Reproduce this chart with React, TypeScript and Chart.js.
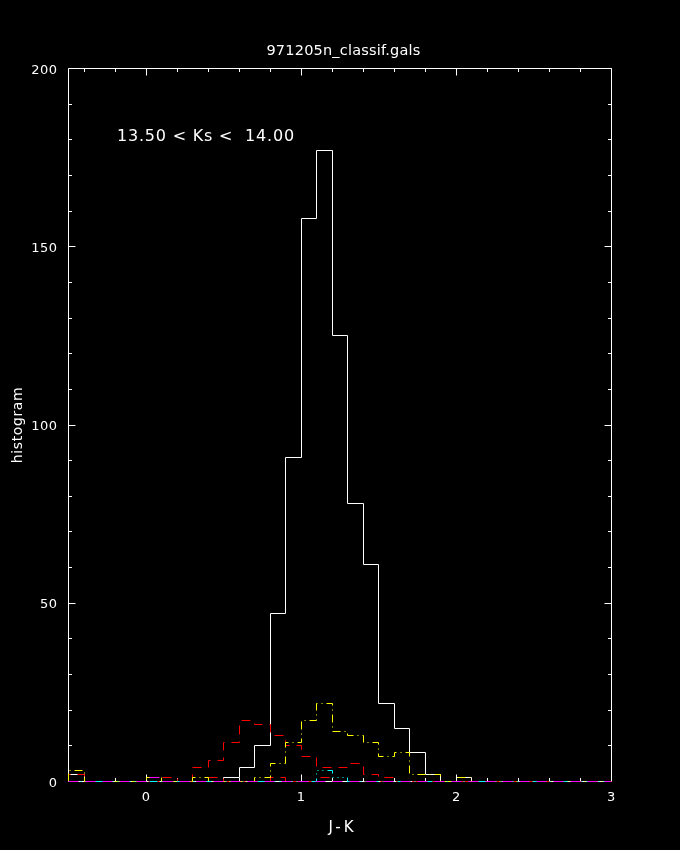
import React, { useEffect, useRef } from "react";
import { Chart, registerables } from "chart.js";

Chart.register(...registerables);

// ---- text ----
const TITLE = "971205n_classif.gals";
const ANNOTATION = "13.50 < Ks <  14.00";
const X_LABEL = "J-K";
const Y_LABEL = "histogram";

// ---- bins (left edges, width 0.1) ----
const binLeft = [
  -0.5, -0.4, -0.3, -0.2, -0.1, 0.0, 0.1, 0.2, 0.3, 0.4,
  0.5, 0.6, 0.7, 0.8, 0.9, 1.0, 1.1, 1.2, 1.3, 1.4,
  1.5, 1.6, 1.7, 1.8, 1.9, 2.0, 2.1, 2.2, 2.3, 2.4,
  2.5, 2.6, 2.7, 2.8, 2.9,
];
const binWidth = 0.1;

// ---- series counts per bin ----
const whiteCounts = [
  2, 0, 0, 0, 0, 0, 0, 0, 0, 0,
  1, 4, 10, 47, 91, 158, 177, 125, 78, 61,
  22, 15, 8, 2, 0, 1, 0, 0, 0, 0,
  0, 0, 0, 0, 0,
];
const redCounts = [
  2, 0, 0, 0, 0, 0, 1, 0, 4, 6,
  11, 17, 16, 13, 10, 7, 4, 4, 5, 2,
  1, 0, 0, 0, 0, 0, 0, 0, 0, 0,
  0, 0, 0, 0, 0,
];
const red2Counts = [
  0, 0, 0, 0, 0, 0, 0, 0, 0, 1,
  0, 0, 0, 1, 0, 0, 1, 0, 0, 0,
  0, 0, 0, 0, 0, 0, 0, 0, 0, 0,
  0, 0, 0, 0, 0,
];
const yellowCounts = [
  3, 0, 0, 0, 0, 1, 0, 0, 1, 0,
  0, 0, 1, 5, 11, 17, 22, 14, 13, 11,
  7, 8, 2, 2, 0, 1, 0, 0, 0, 0,
  0, 0, 0, 0, 0,
];
const cyanCounts = [
  0, 0, 0, 0, 0, 0, 0, 0, 0, 0,
  0, 0, 0, 0, 0, 0, 3, 1, 0, 0,
  0, 0, 0, 0, 0, 0, 0, 0, 0, 0,
  0, 0, 0, 0, 0,
];
const magentaCounts = [
  0, 0, 0, 0, 0, 1, 0, 0, 0, 0,
  0, 0, 0, 0, 0, 0, 0, 0, 0, 0,
  0, 0, 0, 0, 0, 0, 0, 0, 0, 0,
  0, 0, 0, 0, 0,
];

// ---- axes ----
const X_MIN = -0.5;
const X_MAX = 3;
const Y_MIN = 0;
const Y_MAX = 200;
const xMajorTicks = [0, 1, 2, 3];
const xTickLabels = ["0", "1", "2", "3"];
const xMinorTicks = [-0.4, -0.2, 0.2, 0.4, 0.6, 0.8, 1.2, 1.4, 1.6, 1.8, 2.2, 2.4, 2.6, 2.8];
const yMajorTicks = [0, 50, 100, 150, 200];
const yTickLabels = ["0", "50", "100", "150", "200"];
const yMinorTicks = [10, 20, 30, 40, 60, 70, 80, 90, 110, 120, 130, 140, 160, 170, 180, 190];

function toSteps(counts: number[]) {
  const pts: { x: number; y: number }[] = [{ x: binLeft[0], y: 0 }];
  counts.forEach((c, i) => pts.push({ x: binLeft[i], y: c }));
  const last = counts.length - 1;
  pts.push({ x: binLeft[last] + binWidth, y: counts[last] });
  return pts;
}

const snap = (v: number) => Math.floor(v) + 0.5;

const framePlugin = {
  id: "pgframe",
  beforeDraw(chart: any) {
    const ctx = chart.ctx;
    ctx.save();
    ctx.fillStyle = "#000000";
    ctx.fillRect(0, 0, chart.width, chart.height);
    ctx.restore();
  },
  afterDatasetsUpdate(chart: any) {
    // align the step outlines on the pixel grid so 1px lines stay crisp
    chart.data.datasets.forEach((_: any, i: number) => {
      const meta = chart.getDatasetMeta(i);
      meta.data.forEach((p: any) => {
        p.x = snap(p.x);
        p.y = snap(p.y);
      });
    });
  },
  beforeDatasetsDraw(chart: any) {
    const ctx = chart.ctx;
    const { left, right, top, bottom } = chart.chartArea;
    const xs = chart.scales.x;
    const ys = chart.scales.y;
    ctx.save();
    ctx.strokeStyle = "#ffffff";
    ctx.lineWidth = 1;
    ctx.beginPath();
    ctx.rect(left, top, right - left, bottom - top);
    const major = 7;
    const minor = 3.5;
    const xt = (v: number, len: number) => {
      const px = snap(xs.getPixelForValue(v));
      ctx.moveTo(px, bottom);
      ctx.lineTo(px, bottom - len);
      ctx.moveTo(px, top);
      ctx.lineTo(px, top + len);
    };
    const yt = (v: number, len: number) => {
      const py = snap(ys.getPixelForValue(v));
      ctx.moveTo(left, py);
      ctx.lineTo(left + len, py);
      ctx.moveTo(right, py);
      ctx.lineTo(right - len, py);
    };
    xMajorTicks.forEach((v) => xt(v, major));
    xMinorTicks.forEach((v) => xt(v, minor));
    yMajorTicks.forEach((v) => yt(v, major));
    yMinorTicks.forEach((v) => yt(v, minor));
    ctx.stroke();
    ctx.restore();
  },
  afterDraw(chart: any) {
    const ctx = chart.ctx;
    const { left, right, top, bottom } = chart.chartArea;
    const xs = chart.scales.x;
    const ys = chart.scales.y;
    ctx.save();
    ctx.fillStyle = "#ffffff";
    ctx.textBaseline = "alphabetic";

    // tick labels
    ctx.font = '13px "DejaVu Sans"';
    (ctx as any).letterSpacing = "0.5px";
    ctx.textAlign = "right";
    yMajorTicks.forEach((v, i) => {
      ctx.fillText(yTickLabels[i], 57.5, ys.getPixelForValue(v) + 5);
    });
    ctx.textAlign = "center";
    xMajorTicks.forEach((v, i) => {
      ctx.fillText(xTickLabels[i], xs.getPixelForValue(v), 800.5);
    });

    // title
    ctx.font = '14.5px "DejaVu Sans"';
    (ctx as any).letterSpacing = "0.2px";
    ctx.textAlign = "center";
    ctx.fillText(TITLE, 343.5, 54.5);

    // x label
    ctx.font = '15px "DejaVu Sans"';
    (ctx as any).letterSpacing = "3px";
    ctx.fillText(X_LABEL, (left + right) / 2 + 2.5, 831.5);

    // y label
    ctx.save();
    ctx.font = '14px "DejaVu Sans"';
    (ctx as any).letterSpacing = "0.6px";
    ctx.translate(22, (top + bottom) / 2);
    ctx.rotate(-Math.PI / 2);
    ctx.textAlign = "center";
    ctx.fillText(Y_LABEL, 0, 0);
    ctx.restore();

    // annotation
    ctx.font = '16px "DejaVu Sans"';
    (ctx as any).letterSpacing = "0.8px";
    ctx.textAlign = "left";
    ctx.fillText(ANNOTATION, 117, 140.5);

    ctx.restore();
  },
};

export default function App() {
  const canvasRef = useRef<HTMLCanvasElement | null>(null);

  useEffect(() => {
    const canvas = canvasRef.current;
    if (!canvas) return;
    const common = {
      pointRadius: 0,
      pointHoverRadius: 0,
      borderWidth: 1,
      fill: false,
      tension: 0,
      stepped: true,
      clip: false,
    };
    const chart = new Chart(canvas, {
      type: "line",
      data: {
        datasets: [
          { ...common, label: "white", data: toSteps(whiteCounts), borderColor: "#ffffff", order: 6 },
          { ...common, label: "red", data: toSteps(redCounts), borderColor: "#ff0000", borderDash: [9, 7], order: 5 },
          { ...common, label: "red2", data: toSteps(red2Counts), borderColor: "#ff0000", borderDash: [9, 7], order: 4 },
          { ...common, label: "yellow", data: toSteps(yellowCounts), borderColor: "#ffff00", borderDash: [8, 4, 1, 4], order: 3 },
          { ...common, label: "cyan", data: toSteps(cyanCounts), borderColor: "#00ffff", borderDash: [8, 4, 1, 4, 1, 4, 1, 4], order: 2 },
          { ...common, label: "magenta", data: toSteps(magentaCounts), borderColor: "#ff00ff", borderDash: [10, 7], order: 1 },
        ] as any,
      },
      options: {
        responsive: false,
        animation: false,
        devicePixelRatio: 1,
        events: [],
        layout: { padding: { left: 68.5, right: 68.5, top: 68.5, bottom: 68.5 } },
        plugins: {
          legend: { display: false },
          tooltip: { enabled: false },
          title: { display: false },
        },
        scales: {
          x: { type: "linear", min: X_MIN, max: X_MAX, display: false },
          y: { type: "linear", min: Y_MIN, max: Y_MAX, display: false },
        },
      },
      plugins: [framePlugin],
    } as any);
    return () => chart.destroy();
  }, []);

  return (
    <div
      style={{
        position: "fixed",
        left: 0,
        top: 0,
        width: 680,
        height: 850,
        background: "#000000",
      }}
    >
      <canvas ref={canvasRef} width={680} height={850} style={{ display: "block" }} />
    </div>
  );
}
